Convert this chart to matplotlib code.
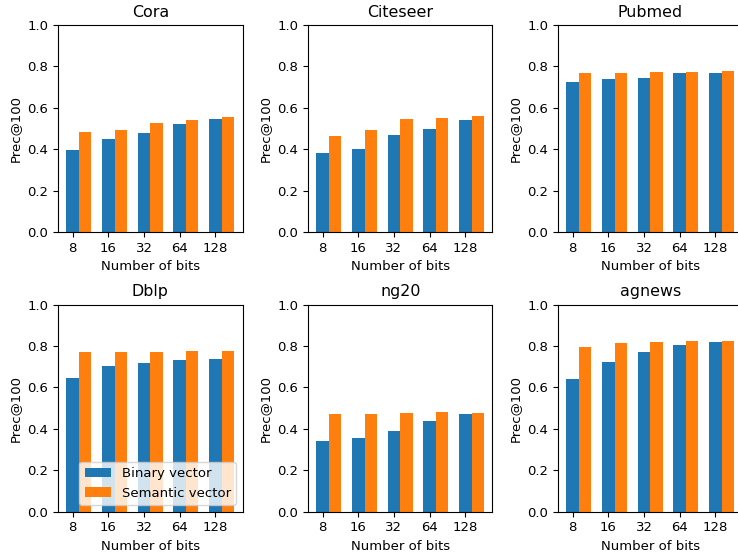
import matplotlib
matplotlib.use("Agg")
import matplotlib.pyplot as plt
import numpy as np

bits = ["8", "16", "32", "64", "128"]
datasets = ["Cora", "Citeseer", "Pubmed", "Dblp", "ng20", "agnews"]

# Prec@100 per dataset
binary = {
    "Cora":     [0.398, 0.447, 0.476, 0.520, 0.545],
    "Citeseer": [0.384, 0.403, 0.467, 0.496, 0.540],
    "Pubmed":   [0.724, 0.739, 0.744, 0.768, 0.768],
    "Dblp":     [0.644, 0.702, 0.716, 0.731, 0.735],
    "ng20":     [0.340, 0.355, 0.389, 0.437, 0.471],
    "agnews":   [0.640, 0.723, 0.771, 0.805, 0.819],
}
semantic = {
    "Cora":     [0.481, 0.491, 0.525, 0.540, 0.554],
    "Citeseer": [0.462, 0.491, 0.545, 0.550, 0.559],
    "Pubmed":   [0.768, 0.768, 0.773, 0.773, 0.777],
    "Dblp":     [0.769, 0.769, 0.769, 0.774, 0.774],
    "ng20":     [0.471, 0.471, 0.476, 0.481, 0.476],
    "agnews":   [0.795, 0.815, 0.819, 0.824, 0.824],
}

plt.rcParams["font.size"] = 9.5
plt.rcParams["axes.titlesize"] = 11.4

x = np.arange(len(bits))
width = 0.35

fig = plt.figure(figsize=(7.38, 5.53), dpi=100)
# the original image is cropped on the right, so the last column runs off the edge
lefts = [0.0786, 0.4173, 0.7561]
bottoms = [0.5805, 0.0750]
w, h = 0.25, 0.3743

for i, name in enumerate(datasets):
    ax = fig.add_axes([lefts[i % 3], bottoms[i // 3], w, h])
    ax.bar(x, binary[name], width, label="Binary vector")
    ax.bar(x + width, semantic[name], width, label="Semantic vector")
    ax.set_xticks(x)
    ax.set_xticklabels(bits)
    ax.set_ylim(0, 1.0)
    ax.set_title(name)
    ax.set_xlabel("Number of bits")
    ax.set_ylabel("Prec@100")
    if name == "Dblp":
        ax.legend(loc="lower right")

plt.savefig("out.png")
